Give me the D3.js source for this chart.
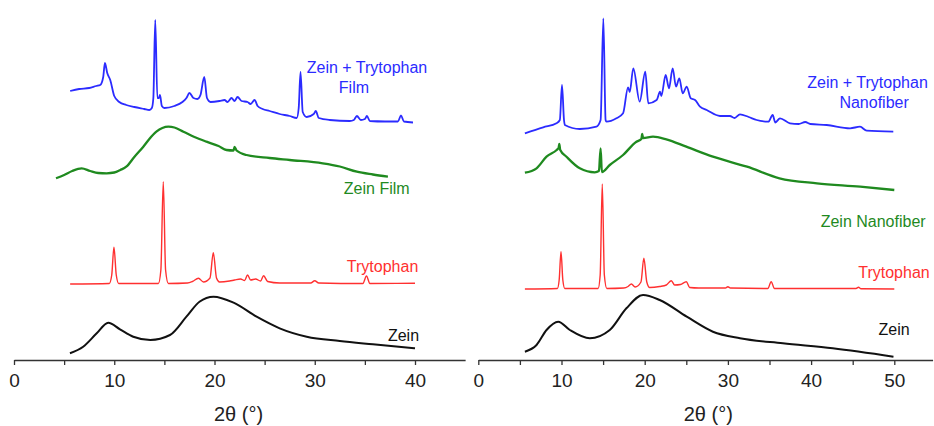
<!DOCTYPE html>
<html lang="en">
  <head>
    <meta charset="UTF-8" />
    <title>XRD patterns - Zein / Trytophan</title>
    <script src="https://cdnjs.cloudflare.com/ajax/libs/d3/7.8.5/d3.min.js"></script>
    <style>
      body {
        margin: 0;
        background: #fff;
      }
      text {
        font-family: "Liberation Sans", Arial, sans-serif;
      }
      .trace {
        fill: none;
        stroke-linejoin: round;
      }
      .axis path,
      .axis line {
        stroke: #333;
        stroke-width: 1.3;
      }
      .axis text {
        font-size: 19px;
        fill: #222;
      }
      .label {
        font-size: 16px;
      }
      .axis-title {
        font-size: 20px;
        fill: #222;
      }
    </style>
  </head>
  <body>
    <div id="chart"></div>
    <script>
      // stacked intensities (a.u.), [2theta, intensity]
      // Film panel
      const filmZeinTrp = [
        [5.6, 269], [6.5, 271], [7.5, 272], [8.2, 274], [8.6, 275], [8.9, 283],
        [9.07, 297], [9.3, 287], [9.6, 280], [10.0, 264], [10.5, 258], [11.2, 255],
        [12.0, 253], [13.0, 251], [13.5, 250], [13.75, 252], [13.9, 262], [14.09, 340],
        [14.3, 262], [14.45, 262], [14.56, 265], [14.75, 254], [15.0, 252], [16.0, 254],
        [16.8, 258], [17.2, 262], [17.5, 267], [17.9, 262], [18.3, 261], [18.6, 265],
        [18.98, 283], [19.25, 262], [19.6, 258], [20.5, 259], [21.0, 260], [21.3, 258],
        [21.7, 262], [22.0, 259], [22.3, 263], [22.7, 259], [23.3, 258], [23.6, 256],
        [24.0, 260], [24.3, 254], [24.8, 251], [25.5, 249], [26.5, 246], [27.5, 244],
        [28.2, 242], [28.4, 252], [28.58, 288], [28.8, 248], [29.2, 243], [29.9, 246],
        [30.1, 249], [30.4, 242], [31.5, 240], [33.5, 239], [33.9, 240], [34.2, 244],
        [34.6, 240], [35.0, 241], [35.2, 244], [35.5, 239], [37.0, 238.5], [38.3, 238.5],
        [38.6, 244.5], [38.9, 238.5], [39.8, 237.5]
      ];
      const filmZein = [
        [4.19, 181.7], [5.0, 185], [5.8, 189], [6.75, 191.7], [7.6, 189], [8.4, 187],
        [9.24, 186.7], [10.0, 187.5], [10.6, 190], [11.2, 193.3], [12.0, 203], [12.9, 213.3],
        [13.5, 221], [14.2, 228.3], [14.8, 232], [15.4, 233.3], [16.0, 232.5], [16.9, 228.3],
        [18.0, 223], [19.2, 218.3], [20.4, 214], [21.2, 210], [21.9, 209.5], [22.0, 213],
        [22.2, 209.5], [23.2, 205], [25.5, 202], [27.5, 200], [30.8, 196.7], [32.5, 193.5],
        [34.2, 188.3], [35.8, 185.5], [37.3, 183.3]
      ];
      const filmTrp = [
        [5.6, 76], [9.5, 76.5], [9.75, 85], [9.97, 112.7], [10.2, 85], [10.45, 76.5],
        [14.4, 76.5], [14.65, 90], [14.89, 178.3], [15.12, 90], [15.4, 76.5], [17.3, 77],
        [17.8, 78.5], [18.4, 81.7], [18.9, 78], [19.55, 82], [19.88, 107.3], [20.2, 82],
        [20.5, 78], [21.5, 79], [22.0, 80], [22.6, 81], [23.0, 79.5], [23.3, 85],
        [23.6, 80], [24.1, 81], [24.6, 79], [24.9, 84.3], [25.3, 78.5], [26.5, 77],
        [29.6, 77], [30.0, 79.3], [30.4, 77], [34.8, 76.5], [35.16, 84], [35.5, 76.5],
        [40.0, 76.7]
      ];
      const filmZeinPowder = [
        [5.58, 6.7], [6.9, 13.3], [8.25, 26.7], [9.4, 37.3], [10.57, 30.7], [11.9, 23.3],
        [13.6, 20], [15.56, 25], [17.2, 43.3], [18.5, 58.3], [19.9, 63.3], [21.9, 57.3],
        [24.2, 43.3], [26.5, 31.7], [29.2, 23.3], [32.5, 19], [35.8, 15.7], [40.0, 11.7]
      ];

      // Nanofiber panel
      const fiberZeinTrp = [
        [5.6, 226.7], [7.8, 232.7], [9.4, 236.7], [9.8, 240], [10.06, 275], [10.3, 240],
        [10.4, 235], [12.2, 231], [14.2, 233.3], [14.7, 240], [15.03, 341.7], [15.3, 240],
        [15.4, 238.3], [16.6, 241.7], [17.4, 246.7], [18.0, 272.7], [18.2, 268], [18.63, 291.7],
        [19.4, 258.3], [20.07, 288.3], [20.43, 256.7], [21.44, 260], [21.84, 268.3], [22.0, 264],
        [22.52, 285], [22.92, 271.7], [23.36, 291.7], [23.76, 273.3], [24.16, 281.7], [24.57, 266.7],
        [25.05, 273.3], [25.53, 261.7], [26.05, 260], [26.65, 253.3], [27.45, 250], [29.05, 244],
        [30.25, 244], [30.8, 242], [31.45, 245.7], [32.5, 243], [33.46, 240], [34.86, 238.3],
        [35.38, 245], [35.7, 237.5], [36.26, 241.7], [37.46, 236.7], [38.5, 236], [39.3, 238],
        [39.9, 236], [41.87, 235], [44.68, 231.7], [45.88, 233.3], [46.68, 229.3], [49.88, 228.3]
      ];
      const fiberZein = [
        [5.6, 187.3], [7.0, 191.7], [8.2, 203.3], [9.42, 210], [9.65, 212], [9.73, 216],
        [9.85, 210], [10.6, 203.3], [12.2, 191.7], [14.0, 187.7], [14.5, 189], [14.7, 211.7],
        [14.85, 188], [15.8, 195], [17.4, 205], [19.0, 218.3], [19.6, 221], [19.7, 226],
        [19.8, 222], [21.0, 223.3], [22.6, 220.7], [25.0, 213.3], [28.2, 203.3], [32.3, 193.3],
        [36.2, 181.7], [40.7, 176.7], [45.9, 173.3], [50.0, 170]
      ];
      const fiberTrp = [
        [5.6, 71], [9.5, 71.5], [9.72, 80], [9.94, 108.3], [10.16, 80], [10.4, 71.5],
        [14.4, 71.5], [14.65, 85], [14.9, 176], [15.15, 85], [15.45, 71.5], [17.5, 72],
        [18.0, 73.5], [18.4, 76], [18.85, 73], [19.55, 78], [19.9, 101.7], [20.25, 78],
        [20.6, 72.5], [21.8, 73.5], [22.6, 75], [23.2, 79.3], [23.6, 75], [24.3, 75.5],
        [25.0, 78.3], [25.4, 72.5], [26.5, 72], [29.7, 72], [30.0, 73.3], [30.3, 72],
        [34.8, 71.5], [35.2, 78.3], [35.6, 71.5], [45.4, 71.5], [45.7, 72.7], [46.0, 71.3],
        [50.0, 71]
      ];
      const fiberZeinPowder = [
        [5.6, 8.3], [7.0, 15], [8.2, 30], [9.6, 38.3], [11.0, 30], [13.4, 21.7],
        [15.8, 30], [17.8, 51.7], [19.8, 65], [21.8, 60], [25.05, 43.3], [28.2, 28.3],
        [31.45, 21.7], [36.6, 16.7], [42.6, 11.7], [49.9, 3.3]
      ];

      const xTicksFilm = [0, 10, 20, 30, 40];
      const xTicksFiber = [0, 10, 20, 30, 40, 50];
      const axisTitle = "2\u03b8 (\u00b0)";

      const colors = { blue: "#2b2bff", green: "#1f8a1f", red: "#ff3030", black: "#111" };

      const panels = [
        {
          x0: 14, x1: 415, dom: [0, 40], axisEnd: 45,
          ticks: xTicksFilm,
          traces: [
            { data: filmZeinTrp, color: colors.blue, w: 1.8 },
            { data: filmZein, color: colors.green, w: 2.3 },
            { data: filmTrp, color: colors.red, w: 1.4 },
            { data: filmZeinPowder, color: colors.black, w: 2 }
          ],
          labels: [
            { t: "Zein + Trytophan", v: 29.2, h: 287, color: colors.blue },
            { t: "Film", v: 32.4, h: 267.5, color: colors.blue },
            { t: "Zein Film", v: 32.9, h: 166, color: colors.green },
            { t: "Trytophan", v: 33.2, h: 88.3, color: colors.red },
            { t: "Zein", v: 37.3, h: 19, color: colors.black }
          ]
        },
        {
          x0: 478.3, x1: 894.3, dom: [0, 50], axisEnd: 54.6,
          ticks: xTicksFiber,
          traces: [
            { data: fiberZeinTrp, color: colors.blue, w: 1.8 },
            { data: fiberZein, color: colors.green, w: 2.3 },
            { data: fiberTrp, color: colors.red, w: 1.4 },
            { data: fiberZeinPowder, color: colors.black, w: 2 }
          ],
          labels: [
            { t: "Zein + Trytophan", v: 39.54, h: 271.7, color: colors.blue },
            { t: "Nanofiber", v: 43.4, h: 252, color: colors.blue },
            { t: "Zein Nanofiber", v: 41.15, h: 133.3, color: colors.green },
            { t: "Trytophan", v: 45.67, h: 82, color: colors.red },
            { t: "Zein", v: 48.1, h: 25, color: colors.black }
          ]
        }
      ];

      const width = 934;
      const height = 426;
      const axisY = 360;

      const svg = d3
        .select("#chart")
        .append("svg")
        .attr("width", width)
        .attr("height", height);

      // shared intensity scale (no y axis drawn)
      const yScale = d3.scaleLinear().domain([0, 345]).range([axisY, axisY - 345]);

      panels.forEach((p) => {
        const xScale = d3.scaleLinear().domain(p.dom).range([p.x0, p.x1]);

        const g = svg.append("g");

        const line = d3
          .line()
          .x((d) => xScale(d[0]))
          .y((d) => yScale(d[1]))
          .curve(d3.curveMonotoneX);

        p.traces.forEach((tr) => {
          g.append("path")
            .datum(tr.data)
            .attr("class", "trace")
            .attr("d", line)
            .attr("stroke", tr.color)
            .attr("stroke-width", tr.w);
        });

        p.labels.forEach((l) => {
          g.append("text")
            .attr("class", "label")
            .attr("x", xScale(l.v))
            .attr("y", yScale(l.h))
            .attr("fill", l.color)
            .text(l.t);
        });

        // axis: minor ticks every 5, labels every 10
        const tickVals = d3.range(0, p.axisEnd, 5);
        const axisScale = xScale.copy().domain([0, p.axisEnd]).range([p.x0, xScale(p.axisEnd)]);
        const xAxis = d3
          .axisBottom(axisScale)
          .tickValues(tickVals)
          .tickSizeInner(5)
          .tickSizeOuter(0)
          .tickPadding(9)
          .tickFormat((d) => (p.ticks.includes(d) ? d : ""));

        g.append("g")
          .attr("class", "axis")
          .attr("transform", `translate(0,${axisY})`)
          .call(xAxis);

        g.append("text")
          .attr("class", "axis-title")
          .attr("x", (p.x0 + p.x1) / 2 + (p === panels[0] ? 24 : 22))
          .attr("y", 421)
          .attr("text-anchor", "middle")
          .text(axisTitle);
      });
    </script>
  </body>
</html>
